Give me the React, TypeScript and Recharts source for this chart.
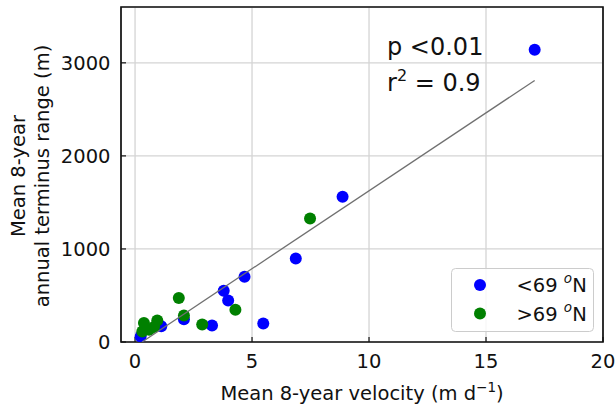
import React from 'react';
import {
  ScatterChart,
  Scatter,
  XAxis,
  YAxis,
  CartesianGrid,
  ReferenceArea,
  Legend,
  Customized,
} from 'recharts';

// ---- data ----
const xTicks = [0, 5, 10, 15, 20];
const yTicks = [0, 1000, 2000, 3000];

const southVelocity = [0.24, 1.12, 2.09, 3.29, 3.79, 3.98, 4.68, 5.48, 6.87, 8.87, 17.08];
const southRange = [60, 170, 245, 178, 552, 445, 700, 200, 898, 1560, 3140];

const northVelocity = [0.31, 0.38, 0.6, 0.81, 0.95, 1.87, 2.09, 2.87, 4.29, 7.48];
const northRange = [114, 204, 132, 160, 231, 472, 284, 188, 346, 1328];

const fitVelocity = [0.3, 17.08];
const fitRange = [0, 2811];

const seriesLabels = ['<69 ', '>69 '];
const seriesColors = ['#0000ff', '#008000'];

const pValueText = 'p <0.01';
const r2Text = '= 0.9';

// ---- derived tables ----
const southData = southVelocity.map((x, i) => ({ x, y: southRange[i] }));
const northData = northVelocity.map((x, i) => ({ x, y: northRange[i] }));
const fitData = fitVelocity.map((x, i) => ({ x, y: fitRange[i] }));

const FONT = "'DejaVu Sans', Verdana, sans-serif";
const TEXT = '#111111';

const dot = (color: string) => (props: any) =>
  props.cx == null ? <g /> : <circle cx={props.cx} cy={props.cy} r={6} fill={color} />;

const noDot = () => <g />;

const YLabel = () => (
  <g fontFamily={FONT} fontSize={19.5} fill={TEXT}>
    <text x={25} y={176} textAnchor="middle" transform="rotate(-90 25 176)">
      Mean 8-year
    </text>
    <text x={49} y={176} textAnchor="middle" transform="rotate(-90 49 176)">
      annual terminus range (m)
    </text>
  </g>
);

const XLabel = () => (
  <text x={362} y={400} textAnchor="middle" fontFamily={FONT} fontSize={19.5} fill={TEXT}>
    Mean 8-year velocity (m d
    <tspan dy={-8} fontSize={13.5}>−1</tspan>
    <tspan dy={8}>)</tspan>
  </text>
);

const Annotation = () => (
  <g fontFamily={FONT} fontSize={24} fill={TEXT}>
    <text x={387} y={55}>{pValueText}</text>
    <text x={387} y={90.5}>
      r<tspan dy={-10} fontSize={16}>2</tspan>
      <tspan dy={10}> {r2Text}</tspan>
    </text>
  </g>
);

const LegendBox = () => (
  <svg width={144} height={66} style={{ display: 'block' }}>
    <rect x={0.5} y={0.5} width={142} height={63} rx={4} ry={4} fill="#ffffff" fillOpacity={0.8} stroke="#cccccc" strokeWidth={1} />
    {seriesLabels.map((label, i) => (
      <g key={label}>
        <circle cx={29} cy={17 + i * 28.5} r={6} fill={seriesColors[i]} />
        <text x={65.5} y={24 + i * 28.5} fontFamily={FONT} fontSize={19.5} fill={TEXT}>
          {label}
          <tspan dy={-9} fontSize={13.5} fontStyle="italic">o</tspan>
          <tspan dy={9}>N</tspan>
        </text>
      </g>
    ))}
  </svg>
);

export default function App() {
  return (
    <div style={{ position: 'absolute', left: 0, top: 0, width: 616, height: 406, background: '#fff' }}>
      <ScatterChart width={616} height={406} margin={{ top: 7, right: 13, bottom: 0, left: 0 }}>
        <CartesianGrid stroke="#d4d4d4" strokeWidth={1.3} horizontal vertical />
        <XAxis
          type="number"
          dataKey="x"
          domain={[-0.6, 20]}
          ticks={xTicks}
          allowDataOverflow
          height={64}
          axisLine={false}
          tickSize={-5}
          tickMargin={17}
          tickLine={{ stroke: '#111', strokeWidth: 1.2 }}
          tick={{ fontFamily: FONT, fontSize: 19.5, fill: TEXT }}
          interval={0}
        />
        <YAxis
          type="number"
          dataKey="y"
          domain={[0, 3600]}
          ticks={yTicks}
          allowDataOverflow
          width={121}
          axisLine={false}
          tickSize={-5}
          tickMargin={15.5}
          tickLine={{ stroke: '#111', strokeWidth: 1.2 }}
          tick={{ fontFamily: FONT, fontSize: 19.5, fill: TEXT }}
          interval={0}
        />
        <Scatter name="<69 N" data={southData} fill={seriesColors[0]} shape={dot(seriesColors[0])} isAnimationActive={false} />
        <Scatter name=">69 N" data={northData} fill={seriesColors[1]} shape={dot(seriesColors[1])} isAnimationActive={false} />
        <Scatter
          name="fit"
          data={fitData}
          shape={noDot}
          line={{ stroke: '#707070', strokeWidth: 1.3 }}
          isAnimationActive={false}
          legendType="none"
        />
        <ReferenceArea x1={-0.6} x2={20} y1={0} y2={3600} fill="none" stroke="#111" strokeWidth={1.7} ifOverflow="visible" />
        <Customized component={YLabel} />
        <Customized component={XLabel} />
        <Customized component={Annotation} />
        <Legend
          layout="horizontal"
          verticalAlign="middle"
          align="center"
          content={() => <LegendBox />}
          wrapperStyle={{ position: 'absolute', left: 451, top: 268, width: 144, height: 66 }}
        />
      </ScatterChart>
    </div>
  );
}
